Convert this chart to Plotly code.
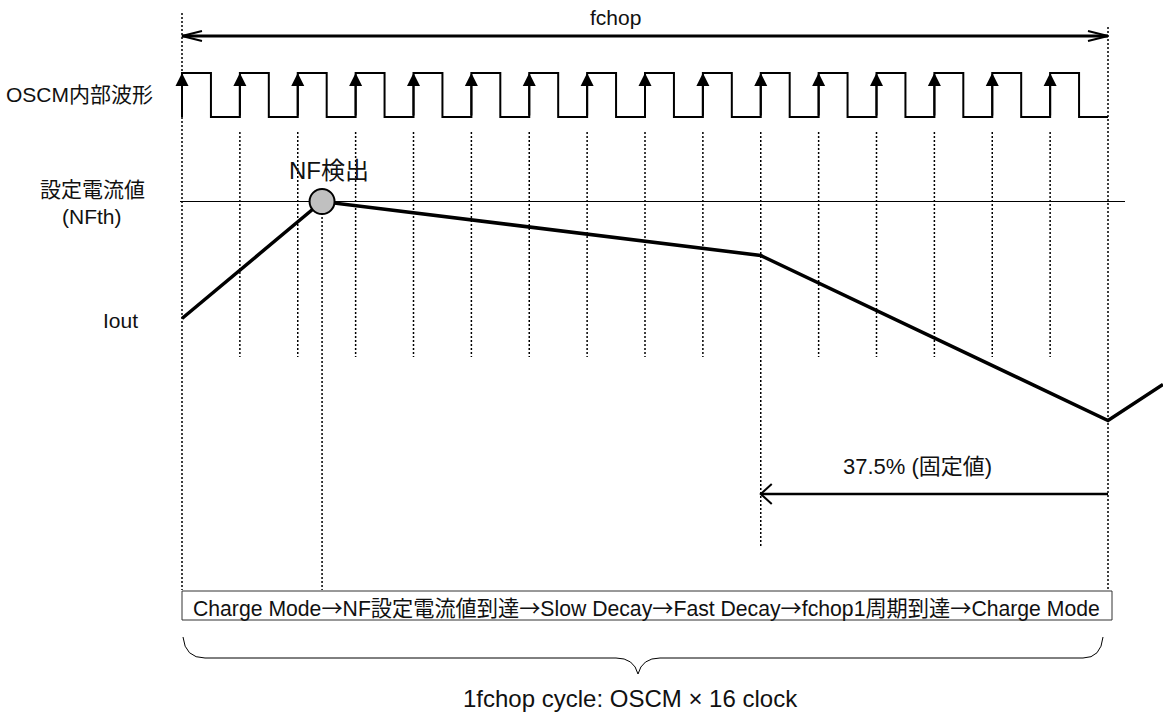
import plotly.graph_objects as go

W, H = 1163, 713

# ---------------- data ----------------
n_clocks = 16                                   # OSCM clocks in one fchop cycle
rising_edges = list(range(n_clocks))            # clock index of each rising edge
duty = 0.5

iout_time = [0.0, 2.42, 10.0, 16.0, 16.95]      # in OSCM clock periods
iout_level = [0.61, 1.00, 0.82, 0.27, 0.39]     # relative to NFth
nfth_level = 1.0
nf_detect_time = 2.42
fast_decay_time = 10.0                          # 16 - 37.5% * 16
cycle_end = 16

label_clock = "OSCM内部波形"
label_nfth = "設定電流値"
label_nfth2 = "(NFth)"
label_iout = "Iout"
label_nf = "NF検出"
label_fchop = "fchop"
label_fixed = "37.5% (固定値)"
mode_sequence = ["Charge Mode", "NF設定電流値到達", "Slow Decay", "Fast Decay",
                 "fchop1周期到達", "Charge Mode"]
label_cycle = "1fchop cycle: OSCM × 16 clock"

# ---------------- layout helpers ----------------
X0_PX, CLK_PX = 182, 57.875            # pixel of t=0, pixels per clock
CUR_ZERO_PX, CUR_UNIT_PX = 501.5, 300  # current axis mapping
CLK_LOW_PX, CLK_UNIT_PX = 117, 44      # clock axis mapping
FONT = "Liberation Sans, Arial, Noto Sans CJK JP, sans-serif"
ARROW = '<span style="font-family:Noto Sans CJK JP">→</span>'


def px(v):
    return v / W


def py(v):
    return 1 - v / H


fig = go.Figure()

# clock waveform
cx, cy = [0], [0]
for k in range(n_clocks):
    cx += [k, k + duty]
    cy += [1, 0]
cx.append(n_clocks)
cy.append(0)
fig.add_trace(go.Scatter(x=cx, y=cy, yaxis="y2", mode="lines",
                         line=dict(color="black", width=2, shape="hv"),
                         hoverinfo="skip", showlegend=False))

# Iout
fig.add_trace(go.Scatter(x=iout_time, y=iout_level, mode="lines",
                         line=dict(color="black", width=3.5),
                         hoverinfo="skip", showlegend=False))
# NF detection point
fig.add_trace(go.Scatter(x=[nf_detect_time], y=[nfth_level], mode="markers",
                         marker=dict(size=25, color="#c0c0c0",
                                     line=dict(color="black", width=2)),
                         hoverinfo="skip", showlegend=False))

shapes = []
dot = dict(color="black", width=1.5, dash="2px,2px")


def vline(t, top, bottom):
    shapes.append(dict(type="line", xref="x", yref="paper", x0=t, x1=t,
                       y0=py(top), y1=py(bottom), line=dot, layer="below"))


vline(0, 13, 590)
vline(cycle_end, 27, 590)
for k in range(1, n_clocks):
    vline(k, 132, 548 if k == fast_decay_time else 357)
vline(nf_detect_time, 213, 590)

# NFth reference line
shapes.append(dict(type="line", xref="paper", yref="y", x0=px(180), x1=px(1125),
                   y0=nfth_level, y1=nfth_level,
                   line=dict(color="black", width=1), layer="below"))

# fchop double arrow
shapes.append(dict(type="line", xref="x", yref="paper", x0=0, x1=cycle_end,
                   y0=py(36), y1=py(36), line=dict(color="black", width=3)))


def chevron(t, ypx, length, half, direction, w):
    s = -direction
    path = f"M{s*length},{half}L0,0L{s*length},{-half}"
    shapes.append(dict(type="path", xref="x", yref="paper",
                       xsizemode="pixel", ysizemode="pixel",
                       xanchor=t, yanchor=py(ypx), path=path,
                       line=dict(color="black", width=w)))


chevron(0, 36, 20, 5, -1, 2)
chevron(cycle_end, 36, 20, 5, 1, 2)

# 37.5% arrow
shapes.append(dict(type="line", xref="x", yref="paper", x0=fast_decay_time,
                   x1=cycle_end, y0=py(494), y1=py(494),
                   line=dict(color="black", width=2.5)))
chevron(fast_decay_time, 494, 11, 10, -1, 2)

# mode box
shapes.append(dict(type="rect", xref="paper", yref="paper",
                   x0=px(182), x1=px(1112), y0=py(620), y1=py(591),
                   line=dict(color="#333333", width=1), fillcolor="white"))

# brace
pts = ("M{a},{b} Q{c},{d} {e},{d} L{f},{d} Q{g},{d} {h},{i} "
       "Q{j},{d} {k},{d} L{l},{d} Q{m},{d} {n},{b}")
brace = pts.format(a=px(183), b=py(637), c=px(185), d=py(658), e=px(205),
                   f=px(616), g=px(634), h=px(638), i=py(674), j=px(642),
                   k=px(660), l=px(1083), m=px(1101), n=px(1103))
shapes.append(dict(type="path", xref="paper", yref="paper", path=brace,
                   line=dict(color="black", width=1)))

annotations = []

# rising-edge arrows
for k in rising_edges:
    annotations.append(dict(x=k, y=1, xref="x", yref="y2", ax=k, ay=0,
                            axref="x", ayref="y2", text="", showarrow=True,
                            arrowhead=2, arrowsize=1.3, arrowwidth=2,
                            arrowcolor="black", standoff=0, startstandoff=0))


def text(s, xp, yp, size=21, xanchor="center"):
    annotations.append(dict(x=px(xp), y=py(yp), xref="paper", yref="paper",
                            text=s, showarrow=False, xanchor=xanchor,
                            yanchor="middle",
                            font=dict(family=FONT, size=size, color="#111111")))


text(label_fchop, 615, 17)
text(label_clock, 155, 95, xanchor="right")
text(label_nfth, 92, 189)
text(label_nfth2, 92, 216)
text(label_iout, 120, 320)
text(label_nf, 329, 170, size=24)
text(label_fixed, 917, 467, size=22)
text(ARROW.join(mode_sequence), 191, 606, size=21.2, xanchor="left")
text(label_cycle, 630, 698, size=24)

fig.update_layout(
    width=W, height=H, margin=dict(l=0, r=0, t=0, b=0),
    paper_bgcolor="white", plot_bgcolor="white",
    showlegend=False,
    xaxis=dict(range=[-X0_PX / CLK_PX, (W - X0_PX) / CLK_PX], visible=False,
               fixedrange=True),
    yaxis=dict(range=[(CUR_ZERO_PX - H) / CUR_UNIT_PX, CUR_ZERO_PX / CUR_UNIT_PX],
               visible=False, fixedrange=True),
    yaxis2=dict(range=[(CLK_LOW_PX - H) / CLK_UNIT_PX, CLK_LOW_PX / CLK_UNIT_PX],
                overlaying="y", visible=False, fixedrange=True),
    shapes=shapes, annotations=annotations,
)

fig.write_html("out.html", config={"displayModeBar": False},
               post_script="document.body.style.margin='0';")
